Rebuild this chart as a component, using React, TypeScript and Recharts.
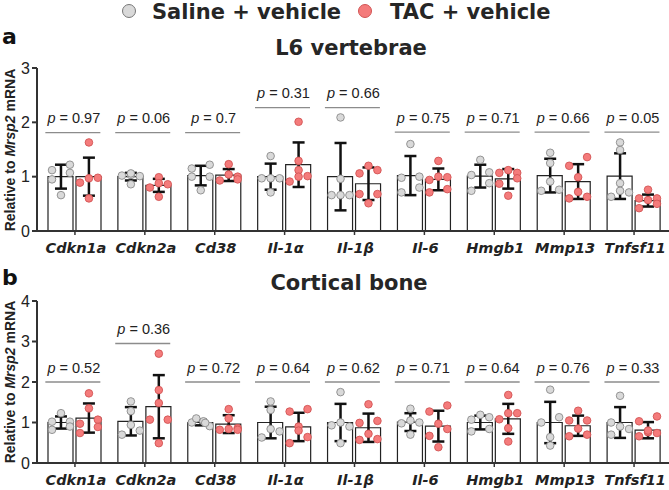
import { ComposedChart, Bar, Scatter, XAxis, YAxis, ErrorBar } from 'recharts'

const genes = ['Cdkn1a', 'Cdkn2a', 'Cd38', 'Il-1α', 'Il-1β', 'Il-6', 'Hmgb1', 'Mmp13', 'Tnfsf11']

// panel a: L6 vertebrae
const pValuesA = ['0.97', '0.06', '0.7', '0.31', '0.66', '0.75', '0.71', '0.66', '0.05']
const pLineA = [1.81, 1.81, 1.81, 2.27, 2.27, 1.82, 1.82, 1.82, 1.82]
const salineMeanA = [1.0, 1.0, 1.02, 1.0, 1.0, 1.02, 1.01, 1.02, 1.01]
const salineSdA = [0.22, 0.07, 0.18, 0.24, 0.62, 0.36, 0.21, 0.31, 0.42]
const tacMeanA = [1.0, 0.84, 1.03, 1.22, 0.87, 0.95, 0.96, 0.91, 0.56]
const tacSdA = [0.35, 0.12, 0.11, 0.41, 0.3, 0.2, 0.18, 0.32, 0.11]
// [value, column] - column is -1 / 0 / 1 inside the bar
const salinePointsA: [number, number][][] = [
  [[1.12, -1], [0.95, -1], [0.66, 0], [1.22, 1], [1.07, 1]],
  [[1.02, -1], [1.03, 0], [1.01, 1], [0.86, 0], [1.06, 0]],
  [[1.15, -1], [1.0, -1], [0.75, 0], [1.22, 1], [1.0, 1]],
  [[0.97, -1], [0.97, 0], [0.97, 1], [1.38, 0], [0.71, 0]],
  [[2.09, 0], [0.96, 0], [0.66, -1], [0.66, 0], [0.66, 1]],
  [[1.6, 0], [0.98, -1], [1.0, 1], [0.8, 1], [0.71, -1]],
  [[1.31, 0], [1.03, -1], [1.08, 1], [0.88, 1], [0.74, -1]],
  [[1.44, 0], [1.25, 0], [0.91, 0], [0.74, -1], [0.76, 1]],
  [[1.63, 0], [1.49, 0], [0.88, 0], [0.74, 0], [0.63, -1], [0.71, 1]],
]
const tacPointsA: [number, number][][] = [
  [[1.63, 0], [0.89, -1], [0.97, 0], [0.98, 1], [0.6, 0]],
  [[0.8, -1], [0.99, 0], [0.88, 0], [0.86, 1], [0.63, 0]],
  [[0.93, -1], [1.23, 0], [1.04, 0], [1.0, 1], [0.95, 1]],
  [[2.01, 0], [1.29, 0], [1.12, 0], [0.91, -1], [1.01, 1], [1.0, 0]],
  [[1.06, -1], [1.2, 0], [1.12, 1], [0.68, -1], [0.68, 1], [0.51, 0]],
  [[1.29, 0], [0.94, -1], [1.0, 0], [0.99, 1], [0.77, 1], [0.71, -1]],
  [[1.07, -1], [1.12, 0], [1.07, 1], [0.97, 1], [0.87, -1], [0.65, 0]],
  [[1.36, 1], [1.2, -1], [0.99, 0], [0.6, -1], [0.63, 1], [0.72, 0]],
  [[0.76, 0], [0.6, -1], [0.6, 1], [0.5, 1], [0.42, -1], [0.57, 0]],
]

// panel b: cortical bone
const pValuesB = ['0.52', '0.36', '0.72', '0.64', '0.62', '0.71', '0.64', '0.76', '0.33']
const pLineB = [2.0, 2.95, 2.0, 2.0, 2.0, 2.0, 2.0, 2.0, 2.0]
const salineMeanB = [1.0, 1.03, 1.0, 1.0, 1.0, 1.01, 1.0, 1.0, 1.0]
const salineSdB = [0.15, 0.35, 0.07, 0.39, 0.46, 0.22, 0.17, 0.51, 0.38]
const tacMeanB = [1.11, 1.39, 0.96, 0.89, 0.87, 0.91, 1.09, 0.92, 0.81]
const tacSdB = [0.36, 0.78, 0.22, 0.35, 0.35, 0.38, 0.37, 0.25, 0.2]
const salinePointsB: [number, number][][] = [
  [[1.02, -1], [0.82, -1], [1.23, 0], [1.02, 1], [0.9, 1]],
  [[1.52, 0], [1.28, 0], [0.7, -1], [0.94, 0], [0.8, 1]],
  [[1.0, -1], [1.1, -0.5], [1.03, 0.3], [0.91, 1], [0.99, 0.5]],
  [[1.52, 0], [1.31, 0], [0.63, -1], [0.84, 0], [0.78, 1]],
  [[1.75, 0], [1.0, 0], [0.93, -1], [0.9, 1], [0.49, 0]],
  [[1.34, 0], [0.98, -1], [1.0, 1], [0.7, 0], [1.05, 0]],
  [[1.19, 0], [1.07, -1], [1.13, 1], [0.84, 1], [0.78, -1]],
  [[1.81, 0], [1.13, 1], [1.0, -1], [0.64, 0], [0.43, 0]],
  [[1.66, 0], [1.0, -1], [0.9, 0], [0.84, 1], [0.7, -1]],
]
const tacPointsB: [number, number][][] = [
  [[1.72, 0], [1.35, 0], [0.97, -1], [0.74, -1], [1.07, 1], [0.89, 1]],
  [[2.7, 0], [1.8, 0], [1.48, 0], [1.07, -1], [1.07, 1], [0.49, 0]],
  [[1.33, 0], [1.1, 0], [0.82, -1], [0.84, 0], [0.86, 1], [0.82, 1]],
  [[1.27, -1], [1.33, 1], [0.9, 0], [0.8, 0], [0.64, 1], [0.49, -1]],
  [[1.45, 0], [1.04, 1], [0.99, -1], [0.72, 0], [0.57, -1], [0.59, 1]],
  [[1.27, -1], [1.42, 1], [0.97, 0], [0.84, 1], [0.67, -1], [0.39, 0]],
  [[1.68, 0], [1.08, -1], [1.23, 0], [1.23, 1], [0.86, 0], [0.53, 0]],
  [[1.29, 0], [1.05, -1], [1.05, 1], [0.85, 0], [0.66, -1], [0.7, 1]],
  [[1.15, 1], [1.03, -1], [0.66, -1], [0.76, 0], [0.74, 1], [0.8, 0]],
]

const SANS = '"Liberation Sans", Arial, sans-serif'
const HEAVY = '"DejaVu Sans", sans-serif'
const GREY = { fill: '#d9d9d9', stroke: '#8a8a8a' }
const RED = { fill: '#f47b7b', stroke: '#d25454' }
const AXIS = '#333'
const BAR_OFFSET = 0.2 // bar centre from category centre, in category units
const JITTER = 0.128

function Dot(props: any, colors: { fill: string; stroke: string }) {
  const { cx, cy } = props
  if (cx == null || cy == null) return <g />
  return <circle cx={cx} cy={cy} r={3.8} fill={colors.fill} stroke={colors.stroke} strokeWidth={0.9} />
}

function PValue(props: any) {
  const { cx, cy, payload } = props
  if (cx == null || cy == null) return <g />
  return (
    <g>
      <line x1={cx - 27.5} x2={cx + 27.5} y1={cy} y2={cy} stroke="#8c8c8c" strokeWidth={1.4} />
      <text x={cx + 1} y={cy - 9.5} textAnchor="middle" fontFamily={SANS} fontSize={14.5} fill="#222">
        <tspan fontStyle="italic">p</tspan> = {payload.label}
      </text>
    </g>
  )
}

function GeneTick(props: any) {
  const { x, y, payload } = props
  return (
    <text x={x + 1} y={y} dy="0.71em" textAnchor="middle" fontFamily={HEAVY} fontWeight="bold"
      fontStyle="italic" fontSize={14.5} fill="#222">
      {payload.value}
    </text>
  )
}

interface PanelProps {
  height: number
  yMax: number
  salineMean: number[]
  salineSd: number[]
  tacMean: number[]
  tacSd: number[]
  salinePoints: [number, number][][]
  tacPoints: [number, number][][]
  pValues: string[]
  pLine: number[]
}

function Panel(p: PanelProps) {
  const rows = genes.map((g, i) => ({ gene: g, saline: p.salineMean[i], tac: p.tacMean[i] }))
  const salineErr = genes.map((_, i) => ({ x: i - BAR_OFFSET, y: p.salineMean[i], err: p.salineSd[i] }))
  const tacErr = genes.map((_, i) => ({ x: i + BAR_OFFSET, y: p.tacMean[i], err: p.tacSd[i] }))
  const salineDots = p.salinePoints.flatMap((pts, i) =>
    pts.map(([v, c]) => ({ x: i - BAR_OFFSET + c * JITTER, y: v })))
  const tacDots = p.tacPoints.flatMap((pts, i) =>
    pts.map(([v, c]) => ({ x: i + BAR_OFFSET + c * JITTER, y: v })))
  const pData = genes.map((_, i) => ({ x: i - 0.03, y: p.pLine[i], label: p.pValues[i] }))
  const ticks = Array.from({ length: p.yMax + 1 }, (_, i) => i)

  return (
    <ComposedChart width={669} height={p.height} data={rows} barGap={3}
      margin={{ top: 10, right: 0, bottom: 0, left: 0 }}>
      <XAxis xAxisId="cat" dataKey="gene" type="category" interval={0} height={27}
        padding={{ left: 3, right: 0 }} tick={<GeneTick />} tickSize={4} tickMargin={8}
        axisLine={{ stroke: AXIS, strokeWidth: 2 }} tickLine={{ stroke: AXIS, strokeWidth: 1.5 }} />
      <XAxis xAxisId="num" dataKey="x" type="number" domain={[-0.5, 8.5]} allowDataOverflow hide
        padding={{ left: 3, right: 0 }} />
      <YAxis type="number" domain={[0, p.yMax]} ticks={ticks} width={37} tickSize={5} tickMargin={2}
        allowDataOverflow
        tick={{ fontSize: 16, fill: '#222', fontFamily: SANS }}
        axisLine={{ stroke: AXIS, strokeWidth: 2 }} tickLine={{ stroke: AXIS, strokeWidth: 2 }} />
      <Bar xAxisId="cat" dataKey="saline" fill="#fff" stroke="#222" strokeWidth={1.2} barSize={25}
        isAnimationActive={false} />
      <Bar xAxisId="cat" dataKey="tac" fill="#fff" stroke="#222" strokeWidth={1.2} barSize={25}
        isAnimationActive={false} />
      <Scatter xAxisId="num" data={salineDots} dataKey="y" shape={(s: any) => Dot(s, GREY)}
        isAnimationActive={false} />
      <Scatter xAxisId="num" data={tacDots} dataKey="y" shape={(s: any) => Dot(s, RED)}
        isAnimationActive={false} />
      <Scatter xAxisId="num" data={salineErr} dataKey="y" shape={() => <g />} isAnimationActive={false}>
        <ErrorBar dataKey="err" direction="y" width={6} strokeWidth={2.5} stroke="#111" />
      </Scatter>
      <Scatter xAxisId="num" data={tacErr} dataKey="y" shape={() => <g />} isAnimationActive={false}>
        <ErrorBar dataKey="err" direction="y" width={6} strokeWidth={2.5} stroke="#111" />
      </Scatter>
      <Scatter xAxisId="num" data={pData} dataKey="y" shape={(s: any) => <PValue {...s} />}
        isAnimationActive={false} />
    </ComposedChart>
  )
}

function YLabel({ cy }: { cy: number }) {
  return (
    <text x={9.5} y={cy} transform={`rotate(-90 9.5 ${cy})`} textAnchor="middle" dominantBaseline="central"
      fontFamily={SANS} fontWeight="bold" fontSize={14} fill="#222">
      Relative to <tspan fontStyle="italic">Mrsp2</tspan> mRNA
    </text>
  )
}

export default function App() {
  return (
    <div style={{ position: 'absolute', left: 0, top: 0, width: 669, height: 490, background: '#fff', overflow: 'hidden' }}>
      <svg width={669} height={490} style={{ position: 'absolute', left: 0, top: 0 }}>
        <circle cx={129} cy={11} r={6.5} fill={GREY.fill} stroke="#777" strokeWidth={1} />
        <text x={152} y={18.5} fontFamily={HEAVY} fontWeight="bold" fontSize={21} fill="#262626">Saline + vehicle</text>
        <circle cx={365} cy={11} r={6.5} fill={RED.fill} stroke={RED.stroke} strokeWidth={1} />
        <text x={390} y={18.5} fontFamily={HEAVY} fontWeight="bold" fontSize={21} fill="#262626">TAC + vehicle</text>
        <text x={2} y={44} fontFamily={HEAVY} fontWeight="bold" fontSize={22} fill="#111">a</text>
        <text x={351} y={55} textAnchor="middle" fontFamily={HEAVY} fontWeight="bold" fontSize={21} fill="#262626">L6 vertebrae</text>
        <text x={2} y={285} fontFamily={HEAVY} fontWeight="bold" fontSize={22} fill="#111">b</text>
        <text x={349} y={290} textAnchor="middle" fontFamily={HEAVY} fontWeight="bold" fontSize={21} fill="#262626">Cortical bone</text>
        <YLabel cy={150} />
        <YLabel cy={382} />
      </svg>
      <div style={{ position: 'absolute', left: 0, top: 58 }}>
        <Panel height={200} yMax={3} salineMean={salineMeanA} salineSd={salineSdA} tacMean={tacMeanA} tacSd={tacSdA}
          salinePoints={salinePointsA} tacPoints={tacPointsA} pValues={pValuesA} pLine={pLineA} />
      </div>
      <div style={{ position: 'absolute', left: 0, top: 291 }}>
        <Panel height={199} yMax={4} salineMean={salineMeanB} salineSd={salineSdB} tacMean={tacMeanB} tacSd={tacSdB}
          salinePoints={salinePointsB} tacPoints={tacPointsB} pValues={pValuesB} pLine={pLineB} />
      </div>
    </div>
  )
}
